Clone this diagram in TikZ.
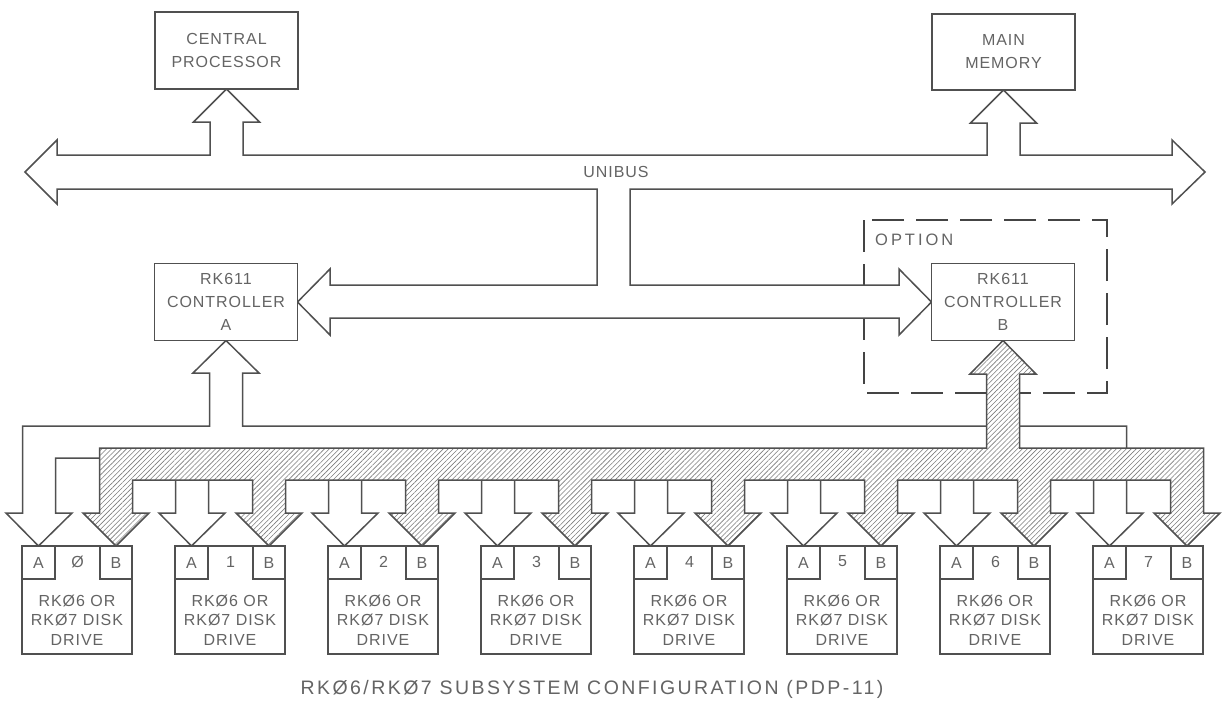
\documentclass[tikz,border=0pt]{standalone}
\usepackage{fontspec}
\setmainfont{Liberation Sans}[LetterSpace=6]
\newfontfamily\capfont{Liberation Sans}[LetterSpace=12.5]
\newfontfamily\optfont{Liberation Sans}[LetterSpace=18]
\usetikzlibrary{patterns.meta,calc}
\definecolor{ink}{RGB}{80,80,80}
\definecolor{txt}{RGB}{100,100,100}
\begin{document}
\begin{tikzpicture}[x=1pt,y=-1pt,
  line join=miter,
  blk/.style={draw=ink, line width=1.5pt, fill=white, outer sep=0pt, inner sep=0pt,
    minimum width=143pt, minimum height=77pt, text=txt, align=center,
    font=\fontsize{16}{23}\selectfont},
  drv/.style={draw=ink, line width=1.5pt, fill=white, outer sep=0pt, inner sep=0pt,
    minimum width=110pt, minimum height=108pt},
  cell/.style={draw=ink, line width=1.5pt},
  lbl/.style={text=txt, inner sep=0pt, font=\fontsize{16}{19.5}\selectfont, align=center},
  bus/.style={draw=ink, line width=1.5pt, fill=white},
  hbus/.style={draw=ink, line width=1.5pt, preaction={fill=white},
    pattern={Lines[angle=45,distance=3.5pt,line width=0.6pt]}, pattern color=ink!75},
  optbox/.style={draw=ink!85!black, line width=2.4pt, dash pattern=on 32pt off 12pt}
]
\useasboundingbox[fill=white] (0,0) rectangle (1225,709);

% option frame
\draw[optbox] (864,220) rectangle (1107,393);
\node[lbl, anchor=west, font=\optfont\fontsize{16.5}{20}\selectfont] (opt) at (875,240) {OPTION};

% boxes (placed first so anchors exist)
\node[blk] (cp) at (226.5,50.5) {CENTRAL\\PROCESSOR};
\node[blk, minimum height=76pt] (mm) at (1003.5,52) {MAIN\\MEMORY};
\node[blk] (ca) at (226,302) {RK611\\CONTROLLER\\A};
\node[blk] (cb) at (1003,302) {RK611\\CONTROLLER\\B};
\foreach \i in {0,...,7} {
  \node[drv] (d\i) at (77+153*\i,600) {};
}

% unibus with its branches
\draw[bus] (25,172) -- (57,140) -- (57,155) -- (210,155) -- (210,122) -- (193.5,122)
  -- (cp.south) -- (259.5,122) -- (243,122) -- (243,155)
  -- (987,155) -- (987,123) -- (970.5,123) -- (mm.south) -- (1036.5,123) -- (1020,123)
  -- (1020,155) -- (1172,155) -- (1172,140) -- (1205,172) -- (1172,204) -- (1172,189)
  -- (630,189) -- (630,285) -- (899,285) -- (899,269) -- (cb.west) -- (899,335)
  -- (899,318) -- (330,318) -- (330,335) -- (ca.east) -- (330,269) -- (330,285)
  -- (597,285) -- (597,189) -- (57,189) -- (57,204) -- cycle;
\node[lbl] (ub) at (616,172) {UNIBUS};

% port A bus (white)
\draw[bus] (22.5,426) -- (209.5,426) -- (209.5,373) -- (193,373) -- (ca.south)
  -- (259,373) -- (242.5,373) -- (242.5,426) -- (1126.5,426)
  \foreach \i [evaluate=\i as \a using 39+153*\i] in {7,6,...,0} {
    -- (\a+16.5,458) -- (\a+16.5,513) -- (\a+33,513) -- ($(d\i.north west)+(16.5,0)$)
    -- (\a-33,513) -- (\a-16.5,513) -- (\a-16.5,458)
  } -- cycle;

% port B bus (hatched)
\draw[hbus] (99.5,448) -- (986.5,448) -- (986.5,374) -- (970,374) -- (cb.south)
  -- (1036,374) -- (1019.5,374) -- (1019.5,448) -- (1203.5,448)
  \foreach \i [evaluate=\i as \c using 116+153*\i] in {7,6,...,0} {
    -- (\c+16.5,480) -- (\c+16.5,513) -- (\c+33,513) -- ($(d\i.north east)+(-16,0)$)
    -- (\c-33,513) -- (\c-16.5,513) -- (\c-16.5,480)
  } -- cycle;

% redraw boxes on top
\node[blk] at (cp) {CENTRAL\\PROCESSOR};
\node[blk, minimum height=76pt] at (mm) {MAIN\\MEMORY};
\node[blk] at (ca) {RK611\\CONTROLLER\\A};
\node[blk] at (cb) {RK611\\CONTROLLER\\B};

% drives
\foreach \i/\n in {0/Ø,1/1,2/2,3/3,4/4,5/5,6/6,7/7} {
  \node[drv] at (d\i) {};
  \draw[cell] (d\i.north west) rectangle ++(33,33);
  \draw[cell] (d\i.north east) rectangle ++(-32,33);
  \node[lbl] (pa\i) at ($(d\i.north west)+(16.5,16.5)$) {A};
  \node[lbl] (pb\i) at ($(d\i.north east)+(-16,16.5)$) {B};
  \node[lbl] (pn\i) at ($(d\i.north)+(0.5,15.5)$) {\n};
  \node[lbl] (dt\i) at ($(d\i.center)+(0,20)$) {RKØ6 OR\\RKØ7 DISK\\DRIVE};
}

% caption
\node[lbl, font=\capfont\fontsize{19.5}{22}\selectfont] (cap) at (592,689)
  {RKØ6/RKØ7 SUBSYSTEM CONFIGURATION (PDP-11)};
\end{tikzpicture}
\end{document}
